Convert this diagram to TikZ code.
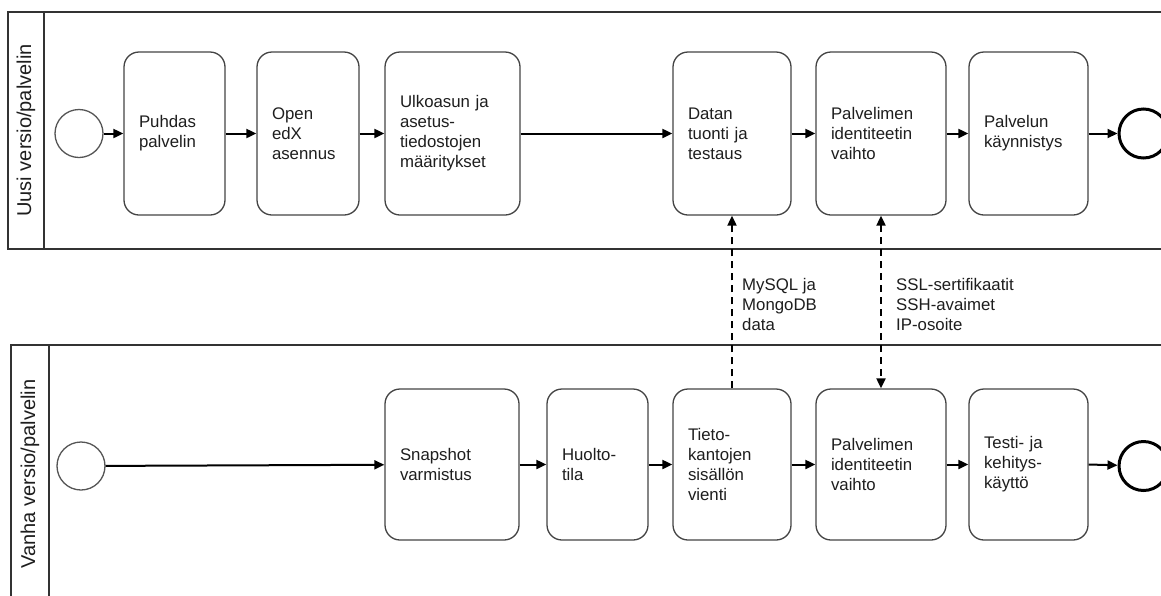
\documentclass[tikz,border=0pt]{standalone}
\usepackage{fontspec}
\setmainfont{Liberation Sans}
\usetikzlibrary{arrows.meta}

\definecolor{boxgray}{HTML}{444444}
\definecolor{txt}{HTML}{1E1E1E}
\definecolor{poolline}{HTML}{333333}
\definecolor{startgray}{HTML}{555555}

\newcommand\taskfont{\fontsize{16.8}{20}\selectfont}
\newcommand\lanefont{\fontsize{20}{24}\selectfont}

\tikzset{
  pool/.style={draw=poolline, line width=1.2pt},
  task/.style={draw=boxgray, line width=1.3pt, rounded corners=15pt, align=left,
    inner xsep=15pt, inner ysep=0pt, font=\taskfont, text=txt},
  startev/.style={circle, draw=startgray, line width=1.3pt, minimum size=48pt, inner sep=0pt},
  endev/.style={circle, draw=black, line width=3pt, minimum size=49pt, inner sep=0pt},
  flow/.style={draw=black, line width=2pt, -{Triangle[length=10pt,width=9pt]}},
  dflow/.style={draw=black, line width=2pt, dash pattern=on 7pt off 5pt,
    -{Triangle[length=10pt,width=9pt]}},
  lanelabel/.style={rotate=90, font=\lanefont, text=txt, inner sep=0pt},
  msglabel/.style={align=left, font=\taskfont, text=txt, inner sep=0pt, anchor=west},
}

\begin{document}
\begin{tikzpicture}[x=1pt,y=-1pt]
  \useasboundingbox (0,0) rectangle (1161,595);
  \fill[white] (0,0) rectangle (1161,595);
  \clip (0,0) rectangle (1161,595);

  % pools
  \draw[pool] (8,12) rectangle (1175,249);
  \draw[pool] (44,12) -- (44,249);
  \draw[pool] (11,345) rectangle (1175,610);
  \draw[pool] (49,345) -- (49,610);
  \node[lanelabel] (lane1) at (26,130.5) {Uusi versio/palvelin};
  \node[lanelabel] (lane2) at (30,474) {Vanha versio/palvelin};

  % new server lane
  \node[startev] (start1) at (79,133.5) {};
  \node[task, text width=71pt, minimum height=163pt] (puhdas) at (174.5,133.5) {Puhdas\\palvelin};
  \node[task, text width=72pt, minimum height=163pt] (open) at (308,133.5) {Open\\edX\\asennus};
  \node[task, text width=105pt, minimum height=163pt] (ulko) at (452.5,133.5) {Ulkoasun ja\\asetus-\\tiedostojen\\määritykset};
  \node[task, text width=88pt, minimum height=163pt] (datan) at (732,133.5) {Datan\\tuonti ja\\testaus};
  \node[task, text width=100pt, minimum height=163pt] (pid1) at (881,133.5) {Palvelimen\\identiteetin\\vaihto};
  \node[task, text width=89pt, minimum height=163pt] (kaynn) at (1028.5,133.5) {Palvelun\\käynnistys};
  \node[endev] (end1) at (1143.5,133.5) {};

  % old server lane
  \node[startev] (start2) at (81,466) {};
  \node[task, text width=104pt, minimum height=151pt] (snap) at (452,464.5) {Snapshot\\varmistus};
  \node[task, text width=71pt, minimum height=151pt] (huolto) at (597.5,464.5) {Huolto-\\tila};
  \node[task, text width=88pt, minimum height=151pt] (tieto) at (732,464.5) {Tieto-\\kantojen\\sisällön\\vienti};
  \node[task, text width=100pt, minimum height=151pt] (pid2) at (881,464.5) {Palvelimen\\identiteetin\\vaihto};
  \node[task, text width=89pt, minimum height=151pt] (testi) at (1028.5,464.5) {Testi- ja\\kehitys-\\käyttö};
  \node[endev] (end2) at (1143.5,466) {};

  % sequence flows
  \draw[flow] (start1) -- (puhdas);
  \draw[flow] (puhdas) -- (open);
  \draw[flow] (open) -- (ulko);
  \draw[flow] (ulko) -- (datan);
  \draw[flow] (datan) -- (pid1);
  \draw[flow] (pid1) -- (kaynn);
  \draw[flow] (kaynn) -- (end1);

  \draw[flow] (start2) -- (snap);
  \draw[flow] (snap) -- (huolto);
  \draw[flow] (huolto) -- (tieto);
  \draw[flow] (tieto) -- (pid2);
  \draw[flow] (pid2) -- (testi);
  \draw[flow] (testi.east) -- (end2);

  % message flows
  \draw[dflow] (tieto.north) -- (datan.south);
  \draw[dflow, {Triangle[length=10pt,width=9pt]}-{Triangle[length=10pt,width=9pt]}] (pid1.south) -- (pid2.north);
  \node[msglabel] (msg1) at (742,304) {MySQL ja\\MongoDB\\data};
  \node[msglabel] (msg2) at (896,304) {SSL-sertifikaatit\\SSH-avaimet\\IP-osoite};
\end{tikzpicture}
\end{document}
